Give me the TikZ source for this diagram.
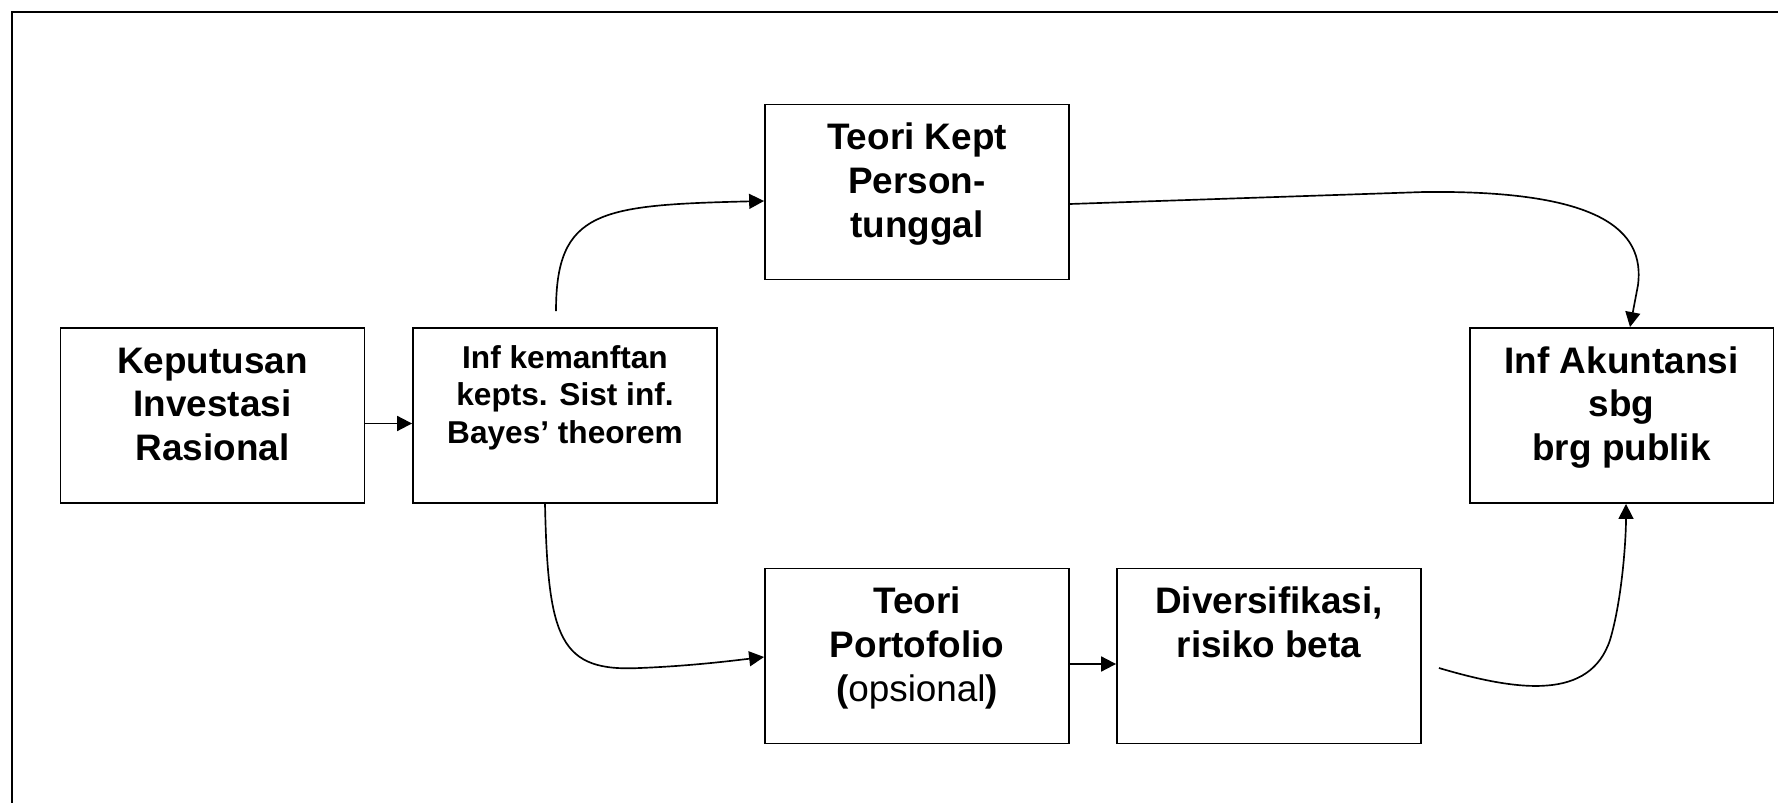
\documentclass[tikz,border=0pt]{standalone}
\usepackage{fontspec}
\setmainfont{Liberation Sans}
\usetikzlibrary{arrows.meta,calc}
\newcommand\bigtxt{\fontsize{21pt}{24.9pt}\selectfont\bfseries}
\newcommand\smalltxt{\fontsize{18pt}{21.6pt}\selectfont\bfseries}
\newcommand\boxtext[3]{\parbox[c][3.5cm][t]{6.08cm}{\centering #1\rule{0pt}{#2}#3}}
\begin{document}
\begin{tikzpicture}[x=0.02cm,y=-0.02cm,
  box/.style={draw,line width=1.1pt,inner sep=0pt,minimum width=6.08cm,minimum height=3.5cm},
  conn/.style={line width=0.95pt,-{Triangle[length=8.5pt,width=8.5pt]}},
  sconn/.style={line width=1.1pt,-{Triangle[length=8.5pt,width=8.5pt]}},
  frame/.style={line width=1.1pt}]
\useasboundingbox (0,0) rectangle (1778,803);
\draw[frame] (12,803) -- (12,12) -- (1778,12);

\node[box] (kep) at (212.5,415.5) {\boxtext{\bigtxt}{0.9cm}{Keputusan\\Investasi\\Rasional}};
\node[box] (kem) at (565,415.5) {\boxtext{\smalltxt}{0.8cm}{Inf kemanftan\\kepts. Sist inf.\\Bayes’ theorem}};
\node[box] (kept) at (917,192) {\boxtext{\bigtxt}{0.9cm}{Teori Kept\\Person-\\tunggal}};
\node[box] (akun) at (1621.5,415.5) {\boxtext{\bigtxt}{0.9cm}{Inf Akuntansi\\sbg\\brg publik}};
\node[box] (porto) at (917,656) {\boxtext{\bigtxt}{0.9cm}{Teori\\Portofolio\\({\mdseries opsional})}};
\node[box] (div) at (1269,656) {\boxtext{\bigtxt}{0.9cm}{Diversifikasi,\\risiko beta}};

\draw[sconn] ($(kep.east)+(0,8)$) -- ($(kem.west)+(0,8)$);
\draw[sconn] ($(porto.east)+(0,8)$) -- ($(div.west)+(0,8)$);

\draw[conn] ($(kem.north)+(-9,-16)$) .. controls (556,210) and (600,205) .. ($(kept.west)+(0,9)$);
\draw[conn] ($(kept.east)+(0,12)$) -- (1424,192) .. controls (1600,190) and (1645,230) .. (1638,285) -- ($(akun.north)+(8.5,0)$);
\draw[conn] ($(kem.south)+(-20,0)$) .. controls (548,640) and (560,672) .. (640,668) .. controls (690,666) and (730,661) .. ($(porto.west)+(0,1)$);
\draw[conn] ($(div.east)+(17,12)$) .. controls (1520,692) and (1590,700) .. (1610,640) .. controls (1622,600) and (1626,540) .. ($(akun.south)+(4.5,0)$);
\end{tikzpicture}
\end{document}
